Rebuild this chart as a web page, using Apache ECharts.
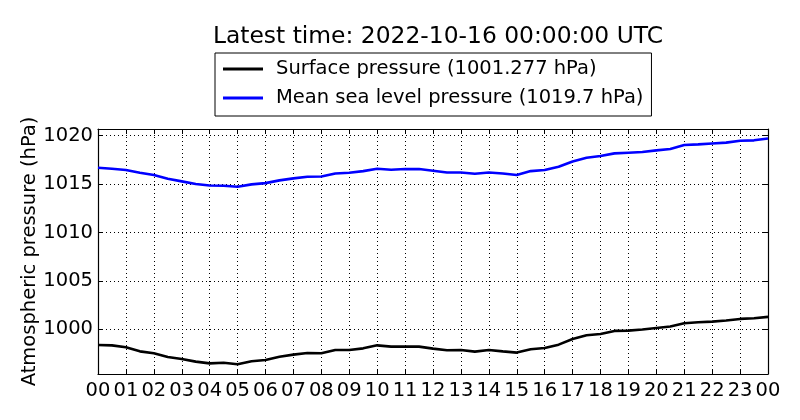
<!DOCTYPE html>
<html>
<head>
<meta charset="utf-8">
<script src="https://cdn.jsdelivr.net/npm/echarts@6/dist/echarts.min.js"></script>
<style>
  html, body { margin: 0; padding: 0; background: #fff; }
  #chart { width: 800px; height: 420px; }
</style>
</head>
<body>
<div id="chart"></div>
<script>
// hours since 2022-10-15 00:00 UTC
const hours = [0, 0.5, 1, 1.5, 2, 2.5, 3, 3.5, 4, 4.5, 5, 5.5, 6, 6.5, 7, 7.5, 8, 8.5,
  9, 9.5, 10, 10.5, 11, 11.5, 12, 12.5, 13, 13.5, 14, 14.5, 15, 15.5, 16, 16.5,
  17, 17.5, 18, 18.5, 19, 19.5, 20, 20.5, 21, 21.5, 22, 22.5, 23, 23.5, 24];

const surfacePressure = [998.38, 998.34, 998.14, 997.72, 997.52, 997.14, 996.93, 996.66,
  996.48, 996.55, 996.38, 996.69, 996.83, 997.17, 997.38, 997.55, 997.52, 997.86,
  997.86, 998.03, 998.34, 998.21, 998.21, 998.21, 998.0, 997.83, 997.86, 997.69,
  997.86, 997.72, 997.59, 997.93, 998.07, 998.41, 999.0, 999.38, 999.52, 999.83,
  999.86, 999.97, 1000.14, 1000.28, 1000.62, 1000.72, 1000.79, 1000.9, 1001.07,
  1001.14, 1001.277];

const seaLevelPressure = [1016.69, 1016.59, 1016.45, 1016.17, 1015.93, 1015.55, 1015.28,
  1015.0, 1014.86, 1014.83, 1014.72, 1014.97, 1015.1, 1015.38, 1015.59, 1015.76,
  1015.79, 1016.1, 1016.17, 1016.34, 1016.59, 1016.48, 1016.55, 1016.55, 1016.38,
  1016.2, 1016.2, 1016.07, 1016.2, 1016.1, 1015.93, 1016.34, 1016.45, 1016.79,
  1017.34, 1017.72, 1017.9, 1018.17, 1018.24, 1018.31, 1018.48, 1018.62, 1019.03,
  1019.1, 1019.2, 1019.28, 1019.48, 1019.52, 1019.7];

const seriesNames = ['Surface pressure (1001.277 hPa)', 'Mean sea level pressure (1019.7 hPa)'];
const titleText = 'Latest time: 2022-10-16 00:00:00 UTC';
const yName = 'Atmospheric pressure (hPa)';
const yMin = 995.38, yMax = 1020.69;

const font = 'DejaVu Sans';
const chart = echarts.init(document.getElementById('chart'), null, { renderer: 'canvas' });

const pair = (xs, ys) => xs.map((x, i) => [x, ys[i]]);
const hourLabel = v => String(v % 24).padStart(2, '0');
const pressLabel = v => (Math.abs(v % 5) < 1e-6 ? String(v) : '');

const tick = { show: true, inside: true, length: 5, lineStyle: { color: '#000', width: 1 } };
const frame = { show: true, onZero: false, lineStyle: { color: '#000', width: 1.2 } };
const dotted = { show: true, lineStyle: { color: '#000', width: 1, type: [1, 3] } };

chart.setOption({
  animation: false,
  backgroundColor: '#fff',
  textStyle: { fontFamily: font },
  title: {
    text: titleText,
    left: 433, top: 20, textAlign: 'center',
    textStyle: { fontFamily: font, fontSize: 23.4, fontWeight: 'normal', color: '#000' }
  },
  legend: {
    left: 215, top: 53,
    orient: 'vertical',
    backgroundColor: '#fff',
    borderColor: '#000', borderWidth: 1, borderRadius: 0,
    padding: [5, 8, 7, 8],
    itemWidth: 40, itemHeight: 3, itemGap: 7,
    icon: 'rect',
    textStyle: { fontFamily: font, fontSize: 19.5, color: '#000', lineHeight: 22, padding: [0, 0, 0, 8] },
    data: seriesNames
  },
  grid: { left: 98, right: 32, top: 129, bottom: 46, containLabel: false },
  xAxis: [
    {
      type: 'value', min: 0, max: 24, interval: 1,
      axisLine: frame, axisTick: tick, splitLine: dotted,
      axisLabel: { formatter: hourLabel, color: '#000', fontFamily: font, fontSize: 19.5, margin: 7 }
    },
    {
      type: 'value', position: 'top', min: 0, max: 24, interval: 1,
      axisLine: frame, axisTick: tick, splitLine: { show: false },
      axisLabel: { show: false }
    }
  ],
  yAxis: [
    {
      type: 'value', min: yMin, max: yMax, splitNumber: 5,
      axisLine: frame, axisTick: tick, splitLine: dotted,
      axisLabel: { formatter: pressLabel, color: '#000', fontFamily: font, fontSize: 19.5, margin: 5 },
      name: yName, nameLocation: 'middle', nameGap: 58, nameMoveOverlap: false,
      nameTextStyle: { color: '#000', fontFamily: font, fontSize: 19.5 }
    },
    {
      type: 'value', position: 'right', min: yMin, max: yMax, splitNumber: 5,
      axisLine: frame, axisTick: tick, splitLine: { show: false },
      axisLabel: { show: false }
    }
  ],
  series: [
    {
      name: seriesNames[0], type: 'line', data: pair(hours, surfacePressure),
      showSymbol: false, lineStyle: { color: '#000', width: 2.6 }, itemStyle: { color: '#000' }
    },
    {
      name: seriesNames[1], type: 'line', data: pair(hours, seaLevelPressure),
      showSymbol: false, lineStyle: { color: '#0000ff', width: 2.6 }, itemStyle: { color: '#0000ff' }
    }
  ]
});
</script>
</body>
</html>
